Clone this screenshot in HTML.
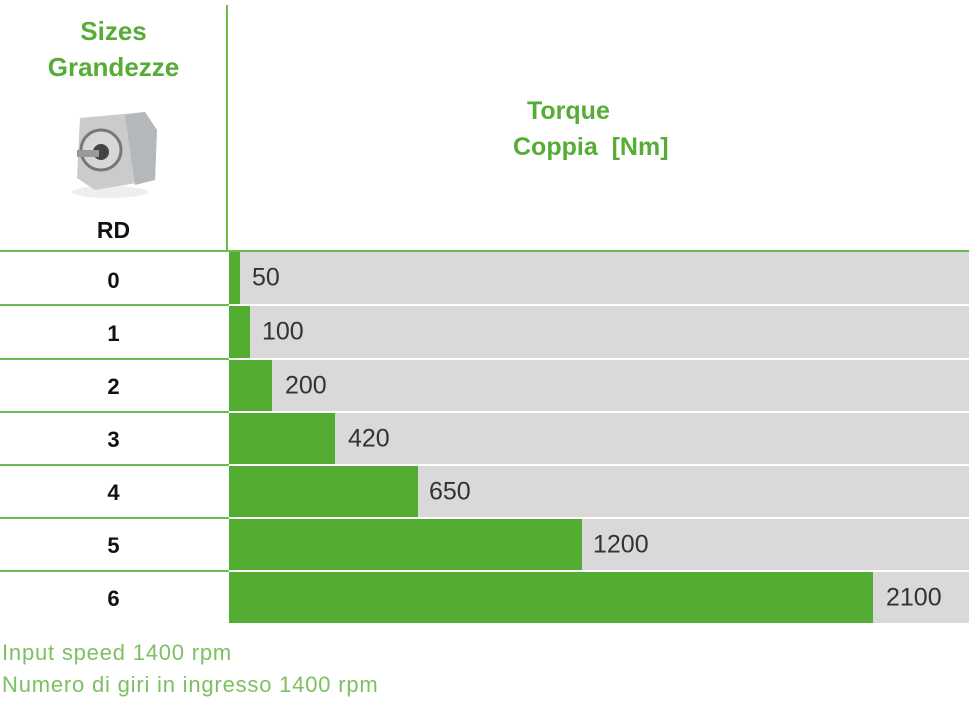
<!DOCTYPE html>
<html><head><style>
body{margin:0;width:969px;height:700px;background:#fff;position:relative;overflow:hidden;font-family:"Liberation Sans",sans-serif;}
.a{position:absolute}
.g{color:#55ad35;font-weight:bold}
.row{position:absolute;left:229px;width:740px;background:#d9d9d9}
.bar{position:absolute;left:0;top:0;bottom:0;background:#52ad32}
.lbl{position:absolute;font-size:25px;color:#333;top:50%;transform:translateY(-50%)}
.num{position:absolute;left:0;width:227px;text-align:center;font-weight:bold;font-size:22px;color:#111}
.sep{position:absolute;left:0;width:229px;height:2px;background:#6bbb4d}
</style></head><body>
<div class="a g" style="left:0;width:227px;top:13px;text-align:center;font-size:26px;line-height:36px">Sizes<br>Grandezze</div>
<svg class="a" style="left:65px;top:100px" width="100" height="100">
<ellipse cx="45" cy="92" rx="38" ry="6" fill="#eee"/>
<polygon points="15,18 80,12 92,30 90,80 30,90 12,78" fill="#c9cbcc"/>
<polygon points="60,15 80,12 92,30 90,80 70,85" fill="#b5b8ba"/>
<circle cx="36" cy="50" r="20" fill="#d5d7d8" stroke="#777" stroke-width="3"/>
<circle cx="36" cy="52" r="8" fill="#444"/>
<rect x="12" y="50" width="22" height="7" fill="#999"/>
</svg>
<div class="a" style="left:0;width:227px;top:217px;text-align:center;font-size:23px;font-weight:bold;color:#111">RD</div>
<div class="a g" style="left:527px;top:97px;font-size:25px">Torque</div>
<div class="a g" style="left:513px;top:133px;font-size:25px">Coppia&nbsp; [Nm]</div>
<div class="a" style="left:226px;top:5px;width:2px;height:247px;background:#6bbb4d"></div>
<div class="a" style="left:0;top:250px;width:969px;height:2px;background:#6bbb4d"></div>

<div class="row" style="top:252px;height:52px"><div class="bar" style="width:11px"></div><div class="lbl" style="left:23px">50</div></div>
<div class="row" style="top:306px;height:52px"><div class="bar" style="width:21px"></div><div class="lbl" style="left:33px">100</div></div>
<div class="row" style="top:360px;height:51px"><div class="bar" style="width:43px"></div><div class="lbl" style="left:56px">200</div></div>
<div class="row" style="top:413px;height:51px"><div class="bar" style="width:106px"></div><div class="lbl" style="left:119px">420</div></div>
<div class="row" style="top:466px;height:51px"><div class="bar" style="width:189px"></div><div class="lbl" style="left:200px">650</div></div>
<div class="row" style="top:519px;height:51px"><div class="bar" style="width:353px"></div><div class="lbl" style="left:364px">1200</div></div>
<div class="row" style="top:572px;height:51px"><div class="bar" style="width:644px"></div><div class="lbl" style="left:657px">2100</div></div>

<div class="sep" style="top:304px"></div>
<div class="sep" style="top:358px"></div>
<div class="sep" style="top:411px"></div>
<div class="sep" style="top:464px"></div>
<div class="sep" style="top:517px"></div>
<div class="sep" style="top:570px"></div>

<div class="num" style="top:268px">0</div>
<div class="num" style="top:321px">1</div>
<div class="num" style="top:374px">2</div>
<div class="num" style="top:427px">3</div>
<div class="num" style="top:480px">4</div>
<div class="num" style="top:533px">5</div>
<div class="num" style="top:586px">6</div>

<div class="a" style="left:2px;top:637px;font-size:22px;letter-spacing:0.8px;color:#7cc062;line-height:32px">Input speed 1400 rpm<br>Numero di giri in ingresso 1400 rpm</div>
</body></html>
